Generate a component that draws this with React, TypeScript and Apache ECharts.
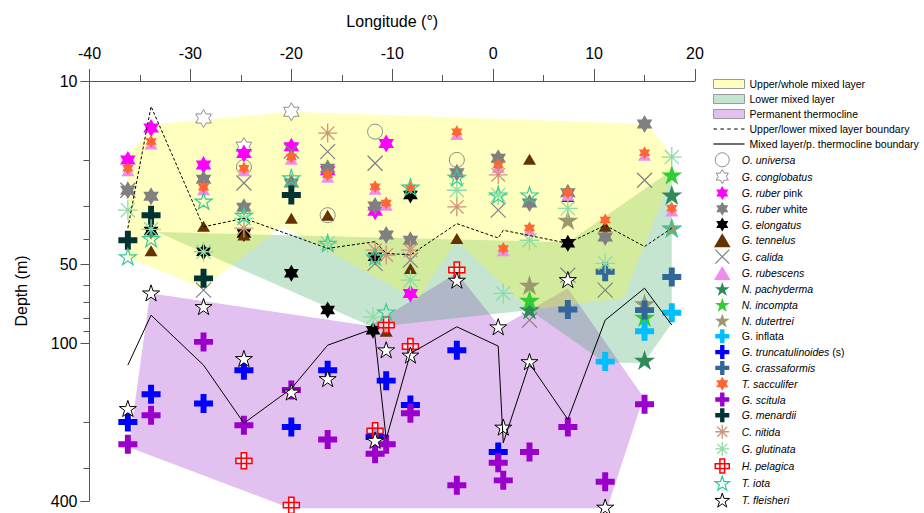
import React, { useEffect, useRef } from 'react';
import * as echarts from 'echarts';

const FONT = '"Liberation Sans", Arial, Helvetica, sans-serif';

// ---- Axis settings ----
const lonMin = -40;
const lonMax = 20;
const lonStep = 10;
const depthMin = 10;
const depthMax = 400;
const depthLabels = [10, 50, 100, 400];
const depthMinorTicks = [20, 30, 40, 60, 70, 80, 90, 200, 300];

// ---- Layer polygons [longitude, depth] ----
const upperMixedLayer = [
  [-33.3, 14.6], [-20.0, 13.1], [15.3, 14.6], [17.7, 19.3], [17.7, 23.2], [12.9, 67.3],
  [3.6, 74.8], [-3.6, 40.5], [-7.5, 68.5], [-20.9, 35.7], [-28.8, 61.7], [-36.2, 47.0], [-36.3, 19.2],
];
const lowerMixedLayer = [
  [-33.3, 37.7], [7.4, 41.2], [17.7, 21.9], [17.7, 83.9], [14.9, 119.2], [11.0, 118.2], [3.6, 74.8], [-11.9, 86.9],
];
const permanentThermocline = [
  [-34.0, 64.5], [-12.2, 86.1], [-3.6, 54.0], [0.7, 86.9], [7.4, 61.7], [14.9, 160.7],
  [11.3, 426], [-20.1, 426], [-36.1, 249.5],
];

// ---- Boundaries ----
const upperLowerBoundary = [
  [-36.2, 36.4], [-33.9, 12.5], [-28.7, 36.0], [-24.7, 33.4], [-16.4, 43.5], [-11.7, 41.0], [-10.6, 45.4],
  [-8.2, 46.1], [-3.6, 35.0], [0.5, 39.7], [1.0, 37.1], [7.4, 41.6], [11.1, 35.5], [15.0, 42.8], [17.7, 36.4],
];
const mixedThermoclineBoundary = [
  [-36.2, 121.3], [-33.9, 78.2], [-28.7, 121.3], [-24.7, 202], [-20.0, 149], [-16.4, 101.8], [-11.8, 87.9],
  [-10.6, 232], [-8.2, 109.5], [-3.6, 86.6], [0.5, 102.6], [1.0, 240], [3.6, 119.5], [7.4, 195.5],
  [11.1, 81.7], [15.0, 61.7], [17.7, 85.3],
];

// ---- Species [longitude, depth] ----
const oUniversa = [[-24.7, 21.3], [-16.4, 32.5], [-11.7, 15.6], [-3.6, 20.0]];
const gConglobatus = [[-28.7, 13.9], [-24.7, 17.8], [-20.0, 13.1]];
const gRuberPink = [[-36.2, 20.0], [-33.9, 15.1], [-28.7, 20.9], [-24.7, 18.9], [-20.0, 17.8], [-16.4, 22.0], [-11.7, 31.4], [-10.6, 17.3], [-8.2, 64.6]];
const gRuberWhite = [[-36.2, 26.1], [-33.9, 27.5], [-28.7, 23.7], [-24.7, 30.3], [-20.0, 24.5], [-16.4, 21.5], [-11.7, 30.0], [-10.6, 38.7], [-8.2, 40.5], [-3.6, 22.4], [0.5, 19.7], [3.6, 29.2], [7.4, 26.7], [11.1, 39.4], [15.0, 14.6]];
const gElongatus = [[-33.9, 37.3], [-28.7, 44.8], [-24.7, 38.2], [-20.0, 54.1], [-16.4, 74.8], [-11.9, 89.2], [-11.7, 46.8], [-8.2, 27.2], [7.4, 41.6]];
const gTennelus = [[-33.9, 44.4], [-28.7, 35.8], [-24.7, 38.7], [-20.0, 33.4], [-16.4, 32.5], [-10.6, 90.0], [-8.2, 51.9], [-3.6, 39.9], [3.6, 19.9], [7.4, 27.6], [11.1, 35.8]];
const gCalida = [[-36.2, 26.1], [-28.7, 62.8], [-24.7, 24.5], [-20.0, 18.5], [-16.4, 18.6], [-11.7, 20.6], [-11.7, 49.6], [-8.2, 48.2], [0.5, 31.1], [3.6, 81.7], [7.4, 55.0], [11.1, 62.8], [15.0, 23.9]];
const gRubescens = [[-36.2, 22.0], [-33.9, 17.4], [-28.7, 26.0], [-24.7, 22.0], [-20.0, 19.9], [-16.4, 23.3], [-11.7, 25.9], [-10.6, 29.8], [-3.6, 16.0], [0.5, 21.4], [1.0, 44.4], [3.6, 37.2], [7.4, 27.3], [15.0, 19.2], [17.7, 31.3]];
const nPachyderma = [[3.6, 74.4], [15.0, 116.0], [17.7, 27.2]];
const nIncompta = [[3.6, 68.5], [15.0, 79.5], [17.7, 22.8]];
const nDutertrei = [[3.6, 60.0], [7.4, 33.9], [15.0, 70.6], [17.7, 36.4]];
const gInflata = [[11.1, 117.6], [15.0, 90.0], [17.7, 76.6]];
const gTruncatulinoides = [[-36.2, 200], [-33.9, 156.5], [-28.7, 169.8], [-24.7, 126.8], [-20.0, 209], [-16.4, 126.8], [-11.7, 228], [-10.6, 139], [-8.2, 172], [-3.6, 106.4], [0.5, 260]];
const gCrassaformis = [[7.4, 74.4], [11.1, 53.4], [15.0, 74.8], [17.7, 55.9]];
const tSacculifer = [[-36.2, 21.5], [-33.9, 17.0], [-28.7, 25.4], [-24.7, 21.5], [-20.0, 19.5], [-16.4, 22.8], [-11.7, 25.3], [-10.6, 29.2], [-8.2, 25.6], [-3.6, 15.6], [0.5, 20.9], [1.0, 43.5], [3.6, 36.4], [7.4, 26.7], [11.1, 33.9], [15.0, 18.8], [17.7, 30.6]];
const gScitula = [[-36.2, 243], [-33.9, 188.3], [-28.7, 98.9], [-24.7, 205.6], [-20.0, 151], [-16.4, 233], [-11.7, 264], [-10.6, 243], [-8.2, 185], [-3.6, 348.6], [0.5, 286], [1.0, 333.7], [3.6, 260], [7.4, 209], [11.1, 338], [15.0, 171]];
const gMenardii = [[-36.2, 40.5], [-33.9, 32.5], [-28.7, 56.6], [-20.0, 27.2]];
const cNitida = [[-24.7, 36.4], [-16.4, 15.8], [-11.7, 44.2], [-10.6, 46.1], [-8.2, 44.2], [-3.6, 30.2], [0.5, 22.8]];
const gGlutinata = [[-36.2, 31.1], [-33.9, 36.8], [-28.7, 44.8], [-24.7, 33.4], [-16.4, 41.6], [-11.9, 79.5], [-8.2, 57.5], [-3.6, 26.1], [0.5, 27.2], [1.0, 64.6], [3.6, 40.5], [7.4, 30.6], [11.1, 49.6], [17.7, 19.5]];
const hPelagica = [[-24.7, 281], [-20.0, 415], [-11.7, 216], [-10.6, 85.3], [-8.2, 103], [-3.6, 52.6]];
const tIota = [[-36.2, 46.8], [-33.9, 39.9], [-28.7, 28.7], [-24.7, 32.5], [-20.0, 23.4], [-16.4, 41.6], [-11.7, 46.8], [-10.6, 76.0], [-8.2, 25.4], [-3.6, 23.3], [0.5, 27.2], [3.6, 27.2], [17.7, 36.4]];
const tFleisheri = [[-36.2, 177.5], [-33.9, 64.3], [-28.7, 72.5], [-24.7, 114.4], [-20.0, 153.6], [-16.4, 136.5], [-11.7, 234.6], [-10.6, 106.0], [-8.2, 111.0], [-3.6, 57.5], [0.5, 86.6], [1.0, 209], [3.6, 117.6], [7.4, 57.2], [11.1, 422]];

// ---- Symbols ----
const HEX = 'path://M10 0L12.887 5L18.66 5L15.774 10L18.66 15L12.887 15L10 20L7.113 15L1.34 15L4.226 10L1.34 5L7.113 5Z';
const STAR5 = 'path://M10 0L12.245 6.91L19.511 6.91L13.633 11.18L15.878 18.09L10 13.82L4.122 18.09L6.367 11.18L0.489 6.91L7.755 6.91Z';
const PLUS = 'path://M11 0H21V11H32V21H21V32H11V21H0V11H11Z';
const XMARK = 'path://M0 0L10 10M10 0L0 10';
const ASTER = 'path://M10 0L10 20M0 10L20 10M2.93 2.93L17.07 17.07M17.07 2.93L2.93 17.07';
const OPEN_PLUS = 'path://M6 0H12V6H18V12H12V18H6V12H0V6H6ZM6 6H12V12H6Z';
const TRI = 'path://M6.5 0L13 11L0 11Z';
const DASH_ICON = 'path://M0 0h3v1h-3zM6 0h3v1h-3zM12 0h3v1h-3zM18 0h3v1h-3zM24 0h3v1h-3z';
const SOLID_ICON = 'path://M0 0h27v1h-27z';
const NONE = 'rgba(255,255,255,0)';

const YELLOW = 'rgba(255,255,0,0.25)';
const GREEN = 'rgba(46,160,90,0.28)';
const PURPLE = 'rgba(160,50,210,0.3)';

const layerNames = [
  'Upper/whole mixed layer',
  'Lower mixed layer',
  'Permanent thermocline',
  'Upper/lower mixed layer boundary',
  'Mixed layer/p. thermocline boundary',
];

type Sp = { name: string; data: number[][]; symbol: string; size: number; color: string; border?: string; bw?: number };
const species: Sp[] = [
  { name: 'O. universa', data: oUniversa, symbol: 'circle', size: 15, color: NONE, border: '#8c8c8c', bw: 1 },
  { name: 'G. conglobatus', data: gConglobatus, symbol: HEX, size: 18, color: '#ffffff', border: '#8c8c8c', bw: 1 },
  { name: 'G. ruber pink', data: gRuberPink, symbol: HEX, size: 18, color: '#ff00ff' },
  { name: 'G. ruber white', data: gRuberWhite, symbol: HEX, size: 18, color: '#808080' },
  { name: 'G. elongatus', data: gElongatus, symbol: HEX, size: 17, color: '#000000' },
  { name: 'G. tennelus', data: gTennelus, symbol: TRI, size: 13, color: '#663300' },
  { name: 'G. calida', data: gCalida, symbol: XMARK, size: 15, color: NONE, border: '#808080', bw: 1.2 },
  { name: 'G. rubescens', data: gRubescens, symbol: TRI, size: 13, color: '#f08cf0' },
  { name: 'N. pachyderma', data: nPachyderma, symbol: STAR5, size: 21, color: '#2e8b57' },
  { name: 'N. incompta', data: nIncompta, symbol: STAR5, size: 21, color: '#32cd32' },
  { name: 'N. dutertrei', data: nDutertrei, symbol: STAR5, size: 21, color: '#99996b' },
  { name: 'G. inflata', data: gInflata, symbol: PLUS, size: 19, color: '#00bfff' },
  { name: 'G. truncatulinoides (s)', data: gTruncatulinoides, symbol: PLUS, size: 19, color: '#0000ff' },
  { name: 'G. crassaformis', data: gCrassaformis, symbol: PLUS, size: 19, color: '#336699' },
  { name: 'T. sacculifer', data: tSacculifer, symbol: HEX, size: 13, color: '#ff6633' },
  { name: 'G. scitula', data: gScitula, symbol: PLUS, size: 19, color: '#9900cc' },
  { name: 'G. menardii', data: gMenardii, symbol: PLUS, size: 19, color: '#003333' },
  { name: 'C. nitida', data: cNitida, symbol: ASTER, size: 19, color: NONE, border: '#cc9577', bw: 1.3 },
  { name: 'G. glutinata', data: gGlutinata, symbol: ASTER, size: 20, color: NONE, border: '#8fdca5', bw: 1.3 },
  { name: 'H. pelagica', data: hPelagica, symbol: OPEN_PLUS, size: 16, color: 'rgba(255,255,255,0.6)', border: '#ff0000', bw: 1.5 },
  { name: 'T. iota', data: tIota, symbol: STAR5, size: 17, color: NONE, border: '#33cc99', bw: 1.2 },
  { name: 'T. fleisheri', data: tFleisheri, symbol: STAR5, size: 17, color: '#ffffff', border: '#000000', bw: 1 },
];

const labelMap: Record<string, string> = {
  'G. ruber pink': '{i|G. ruber} pink',
  'G. ruber white': '{i|G. ruber} white',
  'G. inflata': 'G. inflata',
  'G. truncatulinoides (s)': '{i|G. truncatulinoides} (s)',
};

const lg = (v: number) => Math.log10(v);

function polygonSeries(name: string, pts: number[][], fill: string) {
  return {
    type: 'custom',
    name,
    data: pts,
    xAxisIndex: 0,
    yAxisIndex: 0,
    silent: true,
    clip: false,
    itemStyle: { color: fill },
    renderItem: (params: any, api: any) => {
      if (params.dataIndex !== 0) return null;
      const points = pts.map((p) => api.coord(p));
      return { type: 'polygon', shape: { points }, style: { fill } };
    },
  };
}

function buildOption() {
  const axisColor = '#555';
  const fs = 10.5;
  const textStyleA = {
    fontFamily: FONT,
    fontSize: fs,
    color: '#000',
  };
  const textStyleB = {
    fontFamily: FONT,
    fontSize: fs,
    lineHeight: 14,
    color: '#000',
    rich: { i: { fontFamily: FONT, fontSize: fs, lineHeight: 14, color: '#000', fontStyle: 'italic' } },
  };
  const formatter = (name: string) => {
    if (layerNames.indexOf(name) >= 0) return name;
    return labelMap[name] !== undefined ? labelMap[name] : `{i|${name}}`;
  };

  const series: any[] = [
    polygonSeries(layerNames[2], permanentThermocline, PURPLE),
    polygonSeries(layerNames[1], lowerMixedLayer, GREEN),
    polygonSeries(layerNames[0], upperMixedLayer, YELLOW),
    {
      type: 'line', name: layerNames[3], data: upperLowerBoundary, symbol: 'none', silent: true, clip: false,
      lineStyle: { color: '#000', width: 1, type: [3, 2] },
    },
    {
      type: 'line', name: layerNames[4], data: mixedThermoclineBoundary, symbol: 'none', silent: true, clip: false,
      lineStyle: { color: '#000', width: 1 },
    },
  ];
  species.forEach((s) => {
    series.push({
      type: 'scatter',
      name: s.name,
      data: s.data,
      symbol: s.symbol,
      symbolSize: s.size,
      symbolKeepAspect: true,
      clip: false,
      silent: true,
      emphasis: { disabled: true },
      itemStyle: { color: s.color, borderColor: s.border || s.color, borderWidth: s.bw || 0, opacity: 1 },
    });
  });

  const layerLegend = [
    { name: layerNames[0], icon: 'rect', itemStyle: { color: YELLOW, borderColor: '#9a9a9a', borderWidth: 1 } },
    { name: layerNames[1], icon: 'rect', itemStyle: { color: GREEN, borderColor: '#9a9a9a', borderWidth: 1 } },
    { name: layerNames[2], icon: 'rect', itemStyle: { color: PURPLE, borderColor: '#9a9a9a', borderWidth: 1 } },
    { name: layerNames[3], icon: DASH_ICON, itemStyle: { color: '#000', borderWidth: 0 } },
    { name: layerNames[4], icon: SOLID_ICON, itemStyle: { color: '#000', borderWidth: 0 } },
  ];
  const speciesLegend = species.map((s) => ({
    name: s.name,
    icon: s.symbol,
    itemStyle: { color: s.color, borderColor: s.border || s.color, borderWidth: s.bw || 0, opacity: 1 },
  }));

  return {
    animation: false,
    backgroundColor: '#fff',
    textStyle: { fontFamily: FONT },
    grid: { left: 89.5, right: 229, top: 81, bottom: 12, containLabel: false, outerBoundsMode: 'none' },
    xAxis: [
      {
        type: 'value',
        position: 'top',
        min: lonMin,
        max: lonMax,
        interval: lonStep,
        name: 'Longitude (°)',
        nameLocation: 'middle',
        nameGap: 52,
        nameTextStyle: { fontFamily: FONT, fontSize: 16, color: '#000' },
        axisLine: { show: true, onZero: false, lineStyle: { color: axisColor, width: 1 } },
        axisTick: { show: true, length: 12, lineStyle: { color: axisColor } },
        minorTick: { show: true, splitNumber: 2, length: 6, lineStyle: { color: axisColor } },
        axisLabel: { fontFamily: FONT, fontSize: 16, color: '#000', margin: 20 },
        splitLine: { show: false },
        minorSplitLine: { show: false },
      },
    ],
    yAxis: [
      {
        type: 'log',
        logBase: 10,
        min: depthMin,
        max: depthMax,
        inverse: true,
        position: 'left',
        name: 'Depth (m)',
        nameLocation: 'middle',
        nameGap: 60,
        nameRotate: 90,
        nameTextStyle: { fontFamily: FONT, fontSize: 16, color: '#000' },
        axisLine: { show: true, onZero: false, lineStyle: { color: axisColor, width: 1 } },
        axisTick: { show: false },
        axisLabel: { show: false },
        splitLine: { show: false },
        minorTick: { show: false },
        minorSplitLine: { show: false },
      },
      {
        type: 'value',
        min: lg(depthMin),
        max: lg(depthMax),
        inverse: true,
        position: 'left',
        axisLine: { show: false, onZero: false },
        axisTick: { show: true, length: 9, customValues: depthLabels.map(lg), lineStyle: { color: axisColor } },
        axisLabel: {
          show: true,
          customValues: depthLabels.map(lg),
          formatter: (v: number) => String(Math.round(Math.pow(10, v))),
          fontFamily: FONT,
          fontSize: 16,
          color: '#000',
          margin: 12,
        },
        splitLine: { show: false },
      },
      {
        type: 'value',
        min: lg(depthMin),
        max: lg(depthMax),
        inverse: true,
        position: 'left',
        axisLine: { show: false, onZero: false },
        axisTick: { show: true, length: 6, customValues: depthMinorTicks.map(lg), lineStyle: { color: axisColor } },
        axisLabel: { show: false },
        splitLine: { show: false },
      },
    ],
    legend: [
      {
        orient: 'vertical', left: 713, top: 78.5, padding: 0, itemWidth: 31, itemHeight: 9, itemGap: 4,
        selectedMode: false, data: layerLegend, textStyle: textStyleA, formatter,
      },
      {
        orient: 'vertical', left: 714, top: 152.3, padding: 0, itemWidth: 29, itemHeight: 14, itemGap: 1.8,
        height: 440, selectedMode: false, data: speciesLegend, textStyle: textStyleB, formatter,
      },
    ],
    series,
  };
}

export default function App() {
  const ref = useRef<HTMLDivElement>(null);
  useEffect(() => {
    if (!ref.current) return;
    const chart = echarts.init(ref.current, null, { renderer: 'svg' });
    chart.setOption(buildOption() as any);
    return () => chart.dispose();
  }, []);
  return <div ref={ref} style={{ position: 'absolute', left: 0, top: 0, width: 924, height: 513 }} />;
}
